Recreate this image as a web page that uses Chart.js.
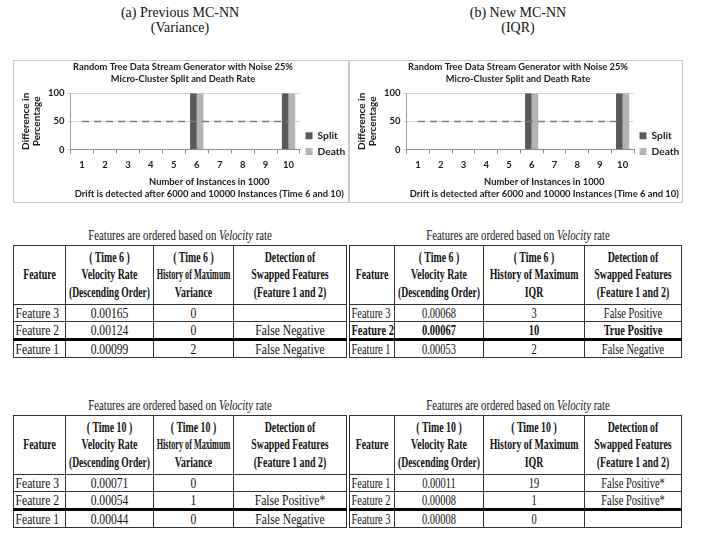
<!DOCTYPE html>
<html>
<head>
<meta charset="utf-8">
<script src="https://cdn.jsdelivr.net/npm/chart.js@4.4.1/dist/chart.umd.min.js"></script>
<style>
  body { margin: 0; width: 702px; height: 545px; background: #fff; position: relative; overflow: hidden; font-family: "Liberation Serif", serif; color: #111; }
  .cap { position: absolute; width: 300px; text-align: center; font-size: 14px; line-height: 15px; }
  .box { position: absolute; border: 1px solid #c8c8c8; box-sizing: border-box; }
  .box canvas { display: block; }
  .tbl-title { position: absolute; width: 400px; text-align: center; white-space: nowrap; font-size: 14.5px; line-height: 16px; transform: scaleX(0.74); transform-origin: 50% 50%; }
  table.feat { position: absolute; border-collapse: collapse; table-layout: fixed; font-family: "Liberation Serif", serif; }
  table.feat th, table.feat td { padding: 0; border: 1px solid #333; overflow: visible; }
  table.feat th { font-size: 14.5px; font-weight: bold; line-height: 17.5px; height: 58px; }
  table.feat td { font-size: 14.5px; line-height: 16px; height: 16px; }
  table.feat .line { white-space: nowrap; }
  table.feat .mid { width: 300%; margin-left: -100%; text-align: center; transform-origin: 50% 0; }
  table.feat .left { text-align: left; padding-left: 2px; transform-origin: 0 0; }
  table.feat tr.split td { border-top: 3px solid #000; }
  table.feat tr.bold td { font-weight: bold; }
</style>
</head>
<body>
<div class="cap" style="left:30px; top:5px;">(a) Previous MC-NN<br>(Variance)</div>
<div class="cap" style="left:368px; top:5px;">(b) New MC-NN<br>(IQR)</div>

<div class="box" style="left:13px; top:60px; width:336px; height:143px;">
  <canvas id="variance-chart" width="334" height="141"></canvas>
</div>
<div class="box" style="left:349px; top:60px; width:334px; height:143px;">
  <canvas id="iqr-chart" width="332" height="141"></canvas>
</div>

<div class="tbl-title" style="left:-20px; top:227px;">Features are ordered based on <i>Velocity</i> rate</div>
<div class="tbl-title" style="left:318px; top:227px;">Features are ordered based on <i>Velocity</i> rate</div>
<div class="tbl-title" style="left:-20px; top:397px;">Features are ordered based on <i>Velocity</i> rate</div>
<div class="tbl-title" style="left:318px; top:397px;">Features are ordered based on <i>Velocity</i> rate</div>

<table class="feat" id="time6-variance" style="left:13px; top:245px;"></table>
<table class="feat" id="time6-iqr" style="left:349px; top:245px;"></table>
<table class="feat" id="time10-variance" style="left:13px; top:415px;"></table>
<table class="feat" id="time10-iqr" style="left:349px; top:415px;"></table>

<script>
const SPLIT_COLOR = '#595959';
const DEATH_COLOR = '#b4b4b4';
const THRESHOLD_COLOR = '#7a7a7a';
const CHART_FONT = 'Lato';
const HEADER_SQUEEZE = 0.68;

// chart data
const instanceLabels = ['1', '2', '3', '4', '5', '6', '7', '8', '9', '10'];
const splitRateVariance = [0, 0, 0, 0, 0, 100, 0, 0, 0, 100];
const deathRateVariance = [0, 0, 0, 0, 0, 100, 0, 0, 0, 100];
const splitRateIqr = [0, 0, 0, 0, 0, 100, 0, 0, 0, 100];
const deathRateIqr = [0, 0, 0, 0, 0, 100, 0, 0, 0, 100];
const thresholdLine = [50, 50, 50, 50, 50, 50, 50, 50, 50, 50];
const yTickValues = [0, 50, 100];

const chartTitle = ['Random Tree Data Stream Generator with Noise 25%', 'Micro-Cluster Split and Death Rate'];
const yAxisTitle = ['Difference in', 'Percentage'];
const xAxisCaption = ['Number of Instances in 1000', 'Drift is detected after 6000 and 10000 Instances (Time 6 and 10)'];

// table data
const varianceHeaders = [
  ['Feature'],
  ['( Time 6 )', 'Velocity Rate', '(Descending Order)'],
  ['( Time 6 )', 'History of Maximum', 'Variance'],
  ['Detection of', 'Swapped Features', '(Feature 1 and 2)'],
];
const iqrHeaders = [
  ['Feature'],
  ['( Time 6 )', 'Velocity Rate', '(Descending Order)'],
  ['( Time 6 )', 'History of Maximum', 'IQR'],
  ['Detection of', 'Swapped Features', '(Feature 1 and 2)'],
];
const varianceHeaders10 = varianceHeaders.map((h) => h.map((t) => t.replace('Time 6', 'Time 10')));
const iqrHeaders10 = iqrHeaders.map((h) => h.map((t) => t.replace('Time 6', 'Time 10')));

const t6VarFeatures = ['Feature 3', 'Feature 2', 'Feature 1'];
const t6VarVelocity = ['0.00165', '0.00124', '0.00099'];
const t6VarHistory = ['0', '0', '2'];
const t6VarDetection = ['', 'False Negative', 'False Negative'];

const t6IqrFeatures = ['Feature 3', 'Feature 2', 'Feature 1'];
const t6IqrVelocity = ['0.00068', '0.00067', '0.00053'];
const t6IqrHistory = ['3', '10', '2'];
const t6IqrDetection = ['False Positive', 'True Positive', 'False Negative'];

const t10VarFeatures = ['Feature 3', 'Feature 2', 'Feature 1'];
const t10VarVelocity = ['0.00071', '0.00054', '0.00044'];
const t10VarHistory = ['0', '1', '0'];
const t10VarDetection = ['', 'False Positive*', 'False Negative'];

const t10IqrFeatures = ['Feature 1', 'Feature 2', 'Feature 3'];
const t10IqrVelocity = ['0.00011', '0.00008', '0.00008'];
const t10IqrHistory = ['19', '1', '0'];
const t10IqrDetection = ['False Positive*', 'False Positive*', ''];

const varianceColWidths = [52, 88, 80, 113];
const iqrColWidths = [45, 89, 101, 97];

// draws the x caption centred between plot left and canvas right, like the Excel original
const axisCaptionPlugin = {
  id: 'axisCaption',
  afterDraw(chart, args, opts) {
    const { ctx, chartArea, width } = chart;
    ctx.save();
    ctx.font = `bold ${opts.size}px ${CHART_FONT}`;
    ctx.fillStyle = '#1a1a1a';
    ctx.textAlign = 'center';
    ctx.textBaseline = 'middle';
    const x = (chartArea.left + width) / 2;
    opts.lines.forEach((line, i) => {
      ctx.fillText(line, x, chartArea.bottom + opts.offset + i * opts.lineHeight);
    });
    ctx.restore();
  },
};

function createRateChart(canvasId, splitData, deathData) {
  const ctx = document.getElementById(canvasId).getContext('2d');
  const tickFont = { family: CHART_FONT, size: 9.5, weight: 'bold' };

  return new Chart(ctx, {
    type: 'bar',
    data: {
      labels: instanceLabels,
      datasets: [
        {
          type: 'line',
          label: 'Threshold',
          data: thresholdLine,
          borderColor: THRESHOLD_COLOR,
          borderWidth: 1.5,
          borderDash: [7, 5],
          pointRadius: 0,
          order: 0,
        },
        {
          label: 'Split',
          data: splitData,
          backgroundColor: SPLIT_COLOR,
          categoryPercentage: 0.58,
          barPercentage: 1,
          order: 1,
        },
        {
          label: 'Death',
          data: deathData,
          backgroundColor: DEATH_COLOR,
          categoryPercentage: 0.58,
          barPercentage: 1,
          order: 1,
        },
      ],
    },
    options: {
      responsive: false,
      animation: false,
      layout: { padding: { left: 6, right: 2, top: 0, bottom: 25 } },
      scales: {
        x: {
          grid: {
            offset: true,
            drawOnChartArea: false,
            tickLength: 4,
            color: '#8c8c8c',
          },
          border: { color: '#8c8c8c' },
          ticks: { font: tickFont, color: '#1a1a1a', padding: 6, maxRotation: 0 },
        },
        y: {
          min: 0,
          max: 100,
          afterBuildTicks: (scale) => {
            scale.ticks = yTickValues.map((v) => ({ value: v }));
          },
          grid: { color: '#d4d4d4', tickLength: 3 },
          border: { color: '#a0a0a0' },
          ticks: { font: tickFont, color: '#1a1a1a', padding: 3 },
          title: {
            display: true,
            text: yAxisTitle,
            font: { family: CHART_FONT, size: 10, weight: 'bold', lineHeight: 1.1 },
            color: '#1a1a1a',
            padding: { top: 0, bottom: 3 },
          },
        },
      },
      plugins: {
        title: {
          display: true,
          text: chartTitle,
          font: { family: CHART_FONT, size: 9.3, weight: 'bold', lineHeight: 1.3 },
          color: '#1a1a1a',
          padding: { top: 0, bottom: 8 },
        },
        legend: {
          position: 'right',
          align: 'start',
          maxWidth: 46,
          title: { display: true, text: '', font: { size: 1 }, padding: { top: 63, bottom: 0 } },
          labels: {
            boxWidth: 7,
            boxHeight: 7,
            padding: 5.5,
            color: '#1a1a1a',
            font: { family: CHART_FONT, size: 10.2, weight: 'bold' },
            filter: (item) => item.text !== 'Threshold',
          },
        },
        tooltip: { enabled: false },
        axisCaption: { lines: xAxisCaption, size: 9.4, offset: 32, lineHeight: 12 },
      },
    },
    plugins: [axisCaptionPlugin],
  });
}

function makeCell(tag, lines, kind) {
  const cell = document.createElement(tag);
  lines.forEach((text) => {
    const line = document.createElement('div');
    line.className = 'line ' + kind;
    const span = document.createElement('span');
    span.textContent = text;
    line.appendChild(span);
    cell.appendChild(line);
  });
  return cell;
}

// header lines get one squeeze, shrunk further if a line would not fit its column
function buildTable(tableId, widths, headers, columns, boldRow, bodySqueeze) {
  const table = document.getElementById(tableId);
  table.style.width = widths.reduce((a, b) => a + b, 0) + 'px';

  const colgroup = document.createElement('colgroup');
  widths.forEach((w) => {
    const col = document.createElement('col');
    col.style.width = w + 'px';
    colgroup.appendChild(col);
  });
  table.appendChild(colgroup);

  const head = document.createElement('tr');
  headers.forEach((lines) => head.appendChild(makeCell('th', lines, 'mid')));
  table.appendChild(head);

  const rows = [];
  columns[0].forEach((_value, r) => {
    const tr = document.createElement('tr');
    if (r === 2) tr.classList.add('split');
    if (r === boldRow) tr.classList.add('bold');
    columns.forEach((column, c) => {
      tr.appendChild(makeCell('td', [column[r]], c === 0 ? 'left' : 'mid'));
    });
    table.appendChild(tr);
    rows.push(tr);
  });

  Array.from(head.children).forEach((th, c) => {
    Array.from(th.children).forEach((line) => {
      const natural = line.firstChild.getBoundingClientRect().width;
      const squeeze = Math.min(HEADER_SQUEEZE, (0.92 * widths[c]) / natural);
      line.style.transform = `scaleX(${squeeze})`;
    });
  });
  rows.forEach((tr) => {
    Array.from(tr.children).forEach((td) => {
      td.firstChild.style.transform = `scaleX(${bodySqueeze})`;
    });
  });
}

createRateChart('variance-chart', splitRateVariance, deathRateVariance);
createRateChart('iqr-chart', splitRateIqr, deathRateIqr);

buildTable('time6-variance', varianceColWidths, varianceHeaders,
  [t6VarFeatures, t6VarVelocity, t6VarHistory, t6VarDetection], -1, 0.8);
buildTable('time6-iqr', iqrColWidths, iqrHeaders,
  [t6IqrFeatures, t6IqrVelocity, t6IqrHistory, t6IqrDetection], 1, 0.72);
buildTable('time10-variance', varianceColWidths, varianceHeaders10,
  [t10VarFeatures, t10VarVelocity, t10VarHistory, t10VarDetection], -1, 0.8);
buildTable('time10-iqr', iqrColWidths, iqrHeaders10,
  [t10IqrFeatures, t10IqrVelocity, t10IqrHistory, t10IqrDetection], -1, 0.72);
</script>
</body>
</html>
